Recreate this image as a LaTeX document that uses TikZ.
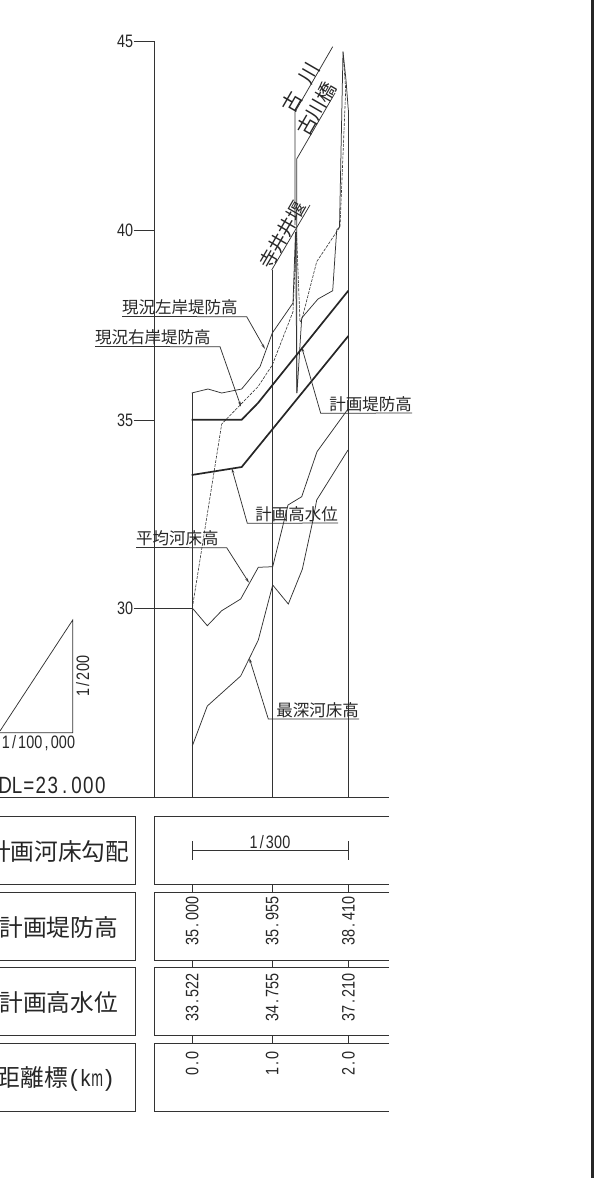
\documentclass[tikz,border=0pt]{standalone}
\usepackage{fontspec}
\usepackage{graphicx}
\setmainfont{Noto Sans CJK JP}
\newfontfamily\numf{Liberation Sans}
\makeatletter
\newcommand{\numt}[1]{{\fontsize{18}{18}\numf\@tfor\cc:=#1\do{\makebox[8.15pt]{\scalebox{0.8}[1]{\cc}}}}}
\newcommand{\bignum}[1]{{\fontsize{23.5}{24}\numf\@tfor\cc:=#1\do{\makebox[11.9pt]{\scalebox{0.8}[1]{\cc}}}}}
\newcommand{\kmt}{{\fontsize{23.5}{24}\numf\makebox[11.7pt]{(}\makebox[11.7pt]{\scalebox{0.85}[1]{k}}\makebox[11.7pt]{\scalebox{0.6}[1]{m}}\makebox[11.7pt]{)}}}
\makeatother
\usetikzlibrary{arrows.meta}
\tikzset{
 thin line/.style={draw=black!80,line width=0.75pt},
 thick line/.style={draw=black!85,line width=1.7pt},
 dash line/.style={draw=black!80,line width=0.6pt,dash pattern=on 3pt off 1.2pt},
 leader/.style={draw=black!80,line width=0.75pt,-{Stealth[length=5pt,width=2.5pt]}},
 lab/.style={inner sep=0pt,font=\fontsize{16.5}{17}\selectfont,text=black!85},
 tlab/.style={inner sep=0pt,font=\fontsize{23.7}{24}\selectfont,text=black!85},
 rlab/.style={inner sep=0pt,text=black!85},
 box/.style={draw=black!80,line width=0.8pt},
}
\begin{document}
\begin{tikzpicture}[x=1pt,y=-1pt]
\useasboundingbox (0,0) rectangle (595,1178);
\clip (0,0) rectangle (595,1178);
% page border
\fill[black!85] (591,0) rectangle (593.6,1178);
% axis and verticals
\draw[thin line] (154.3,41)--(154.3,797);
\draw[thin line] (192.3,393)--(192.3,797);
\draw[thin line] (272.3,270)--(272.3,365);
\draw[thin line] (272.8,340)--(272.8,797);
\draw[thin line] (348.3,110)--(348.3,797);
\draw[thin line] (0,797)--(389,797);
% ticks
\node[rlab,anchor=east] (t45) at (133.5,41) {\numt{45}};
\node[rlab,anchor=east] (t40) at (133.5,230) {\numt{40}};
\node[rlab,anchor=east] (t35) at (133.5,420) {\numt{35}};
\node[rlab,anchor=east] (t30) at (133.5,608) {\numt{30}};
\draw[thin line] (t45.east)--(154.3,41);
\draw[thin line] (t40.east)--(154.3,230);
\draw[thin line] (t35.east)--(154.3,420);
\draw[thin line] (t30.east)--(192.3,608);
% gradient triangle
\draw[thin line] (0,731)--(72.7,620)--(72.7,732.7)--(0,732.7);
\node[rlab,rotate=90] (t200) at (82.7,676) {\numt{1/200}};
\node[rlab] (t100k) at (38.5,743) {\numt{1/100,000}};
\node[rlab,anchor=west] (dl) at (-1,785) {\bignum{DL=23.000}};
% landmark lines
\draw[thin line] (332.7,46.7)--(295,112)--(295,225);
\draw[thin line] (335,93)--(296.7,159)--(296.7,393);
\draw[thin line] (310,205)--(271.7,270);
\node[lab,rotate=60,font=\fontsize{20}{20}\selectfont] (nfuru) at (291.7,101.7) {古};
\node[lab,rotate=60,font=\fontsize{20}{20}\selectfont] (nkawa) at (309,73) {川};
\node[lab,rotate=60,font=\fontsize{19.5}{20}\selectfont] (nbridge) at (316.5,109) {古川橋};
\node[lab,rotate=60,font=\fontsize{18.5}{19}\selectfont] (nweir) at (282.5,235) {寺井井堰};
% existing banks
\draw[thin line] (191.7,393)--(208,389)--(221.7,393)--(241.7,389)--(260,366.7)--(272.3,333)--(293,303)--(295.5,232)--(297,393)--(301.7,318)--(318,299)--(332.7,290.7)--(336.7,230)--(339.5,227)--(343,51.7)--(346,80)--(348.3,110);
\draw[dash line] (192.3,608)--(221.7,424)--(258,386.7)--(272.3,365)--(293,311.7)--(296.5,232)--(300,322)--(301.7,320)--(316.7,261.7)--(340,226.7)--(345.7,90)--(343,51.7);
% plan lines
\draw[thick line] (191.7,419.7)--(241.7,419.7)--(258,403)--(348.3,290.7);
\draw[thick line] (191.7,475)--(241.7,467)--(348.3,336);
% river beds
\draw[thin line] (192.3,608)--(207.3,625.7)--(221.7,610.7)--(240.7,599)--(258.3,567.3)--(272.7,566.7)--(288,505)--(301.7,496.7)--(317,451.7)--(348,409);
\draw[thin line] (192.3,746)--(207.3,706)--(240.7,676)--(258.3,640)--(272.7,585)--(288.3,604)--(302.3,569.3)--(313,520)--(316.7,500)--(348,450);
% labels
\node[lab,anchor=south west] (l1) at (122,315.5) {現況左岸堤防高};
\coordinate (a1) at (265,349);
\draw[leader] (l1.south west)++(0,1)--(246.7,316.7)--(a1);
\node[lab,anchor=south west] (l2) at (95,345.5) {現況右岸堤防高};
\coordinate (a2) at (241,406.7);
\draw[leader] (l2.south west)++(0,1)--(220,346.7)--(a2);
\node[lab,anchor=south east] (l3) at (412,412) {計画堤防高};
\coordinate (a3) at (301.7,347);
\draw[leader] (l3.south east)++(0,1)--(320.7,413.3)--(a3);
\node[lab,anchor=south east] (l4) at (338,522) {計画高水位};
\coordinate (a4) at (231.7,468);
\draw[leader] (l4.south east)++(0,1)--(247.3,523.3)--(a4);
\node[lab,anchor=south west] (l5) at (136,546.5) {平均河床高};
\coordinate (a5) at (249,582.7);
\draw[leader] (l5.south west)++(0,1)--(226.7,547.7)--(a5);
\node[lab,anchor=south east] (l6) at (359,718) {最深河床高};
\coordinate (a6) at (249.3,658);
\draw[leader] (l6.south east)++(0,1)--(268.3,719)--(a6);
% table left
\draw[box] (-2,816.3)--(135.7,816.3)--(135.7,884.3)--(-2,884.3);
\draw[box] (-2,892.3)--(135.7,892.3)--(135.7,960)--(-2,960);
\draw[box] (-2,967.7)--(135.7,967.7)--(135.7,1035.7)--(-2,1035.7);
\draw[box] (-2,1043.3)--(135.7,1043.3)--(135.7,1111.3)--(-2,1111.3);
\node[tlab,anchor=east] (c1) at (129.5,851.7) {計画河床勾配};
\node[tlab,anchor=east] (c2) at (118,927) {計画堤防高};
\node[tlab,anchor=east] (c3) at (118,1002.7) {計画高水位};
\node[tlab,anchor=east] (c4) at (115,1079) {距離標\kmt};
% table right
\draw[box] (389,816.3)--(154.3,816.3)--(154.3,884.3)--(389,884.3);
\draw[box] (389,892.3)--(154.3,892.3)--(154.3,960)--(389,960);
\draw[box] (389,967.7)--(154.3,967.7)--(154.3,1035.7)--(389,1035.7);
\draw[box] (389,1043.3)--(154.3,1043.3)--(154.3,1111.3)--(389,1111.3);
\foreach \x in {192.3,272.3,348.3}{
 \draw[thin line] (\x,884.3)--(\x,892.3);
 \draw[thin line] (\x,960)--(\x,967.7);
 \draw[thin line] (\x,1035.7)--(\x,1043.3);
}
\draw[thin line] (192.3,841)--(192.3,860) (192.3,850.3)--(348.3,850.3) (348.3,841)--(348.3,860);
\node[rlab] (s) at (270,842) {\numt{1/300}};
\node[rlab,rotate=90] (a00) at (192.3,921) {\numt{35.000}};
\node[rlab,rotate=90] (a01) at (272.3,921) {\numt{35.955}};
\node[rlab,rotate=90] (a02) at (348.3,921) {\numt{38.410}};
\node[rlab,rotate=90] (b00) at (192.3,997.4) {\numt{33.522}};
\node[rlab,rotate=90] (b01) at (272.3,997.4) {\numt{34.755}};
\node[rlab,rotate=90] (b02) at (348.3,997.4) {\numt{37.210}};
\node[rlab,rotate=90] (c00) at (192.3,1063.5) {\numt{0.0}};
\node[rlab,rotate=90] (c01) at (272.3,1063.5) {\numt{1.0}};
\node[rlab,rotate=90] (c02) at (348.3,1063.5) {\numt{2.0}};
\end{tikzpicture}
\end{document}
